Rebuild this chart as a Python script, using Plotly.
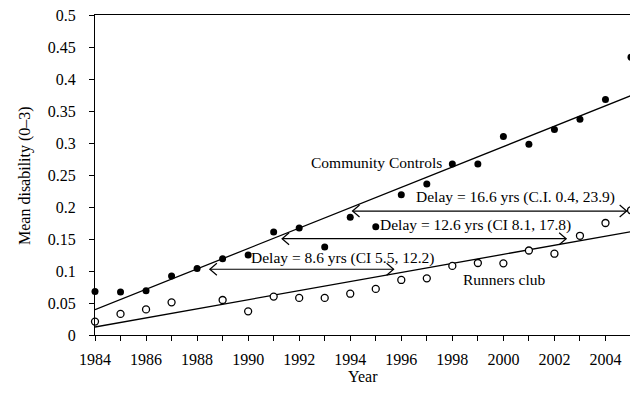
import plotly.graph_objects as go

years = list(range(1984, 2006))
community = [0.068, 0.067, 0.069, 0.092, 0.104, 0.119, 0.125, 0.161, 0.167, 0.1375,
             0.184, 0.169, 0.219, 0.236, 0.267, 0.267, 0.310, 0.298, 0.321, 0.337,
             0.368, 0.434]
runners = [0.021, 0.033, 0.040, 0.051, None, 0.0547, 0.037, 0.060, 0.058, 0.058,
           0.0645, 0.072, 0.086, 0.0885, 0.108, 0.1125, 0.112, 0.132, 0.127, 0.155,
           0.175, 0.195]

fit_years = [1984, 2005]
community_fit = [0.0396, 0.374]
runners_fit = [0.0125, 0.1615]

# delay arrows: start year, end year, level
arrow_start = [1988.5, 1991.33, 1994.09]
arrow_end = [1995.7, 2002.46, 2004.83]
arrow_level = [0.1027, 0.1505, 0.1937]

labels = ["Delay = 8.6 yrs (CI 5.5, 12.2)",
          "Delay = 12.6 yrs (CI 8.1, 17.8)",
          "Delay = 16.6 yrs (C.I. 0.4, 23.9)"]
label_x = [1993.7, 1998.9, 2000.46]
label_y = [0.1207, 0.172, 0.215]

FONT = "Liberation Serif"
ANN = 15.5

X_RANGE = [1984, 2005]
Y_RANGE = [0, 0.5]
W, H = 630, 392
ML, MR, MT, MB = 87, 7, 7, 65
px_x = (W - ML - MR) / (X_RANGE[1] - X_RANGE[0])   # pixels per year
px_y = (H - MT - MB) / (Y_RANGE[1] - Y_RANGE[0])   # pixels per unit
HEAD_LEN, HEAD_HALF = 7, 6                          # arrowhead size in pixels

fig = go.Figure()
fig.add_trace(go.Scatter(x=fit_years, y=community_fit, mode="lines",
                         line=dict(color="black", width=1.3), showlegend=False))
fig.add_trace(go.Scatter(x=fit_years, y=runners_fit, mode="lines",
                         line=dict(color="black", width=1.3), showlegend=False))

# double-headed arrows with open chevron heads
for xs, xe, lv in zip(arrow_start, arrow_end, arrow_level):
    dx = HEAD_LEN / px_x
    dy = HEAD_HALF / px_y
    ax_ = [xs, xe, None,
           xs + dx, xs, xs + dx, None,
           xe - dx, xe, xe - dx]
    ay_ = [lv, lv, None,
           lv + dy, lv, lv - dy, None,
           lv + dy, lv, lv - dy]
    fig.add_trace(go.Scatter(x=ax_, y=ay_, mode="lines", line=dict(color="black", width=1.2),
                             showlegend=False, hoverinfo="skip"))

fig.add_trace(go.Scatter(x=years, y=community, mode="markers",
                         marker=dict(color="black", size=7), showlegend=False,
                         cliponaxis=False))
fig.add_trace(go.Scatter(x=years, y=runners, mode="markers",
                         marker=dict(color="white", size=7, line=dict(color="black", width=1.3)),
                         showlegend=False, cliponaxis=False))

for t, lx, ly in zip(labels, label_x, label_y):
    fig.add_annotation(x=lx, y=ly, text=t, showarrow=False,
                       font=dict(family=FONT, size=ANN, color="black"))

fig.add_annotation(x=1995.02, y=0.270, text="Community Controls", showarrow=False,
                   font=dict(family=FONT, size=ANN, color="black"))
fig.add_annotation(x=2000.03, y=0.086, text="Runners club", showarrow=False,
                   font=dict(family=FONT, size=ANN, color="black"))

# axis titles
fig.add_annotation(xref="paper", yref="paper", x=-0.1306, y=0.5, text="Mean disability (0–3)",
                   textangle=-90, showarrow=False, xanchor="center", yanchor="middle",
                   font=dict(family=FONT, size=16, color="black"))
fig.add_annotation(xref="paper", yref="paper", x=0.5, y=-0.131, text="Year",
                   showarrow=False, xanchor="center", yanchor="middle",
                   font=dict(family=FONT, size=16, color="black"))

# page body has an 8px default margin, so the figure is sized to fit 638x400 with it
fig.update_layout(
    width=W, height=H,
    margin=dict(l=ML, r=MR, t=MT, b=MB, autoexpand=False),
    paper_bgcolor="white", plot_bgcolor="white",
    font=dict(family=FONT, size=16, color="black"),
    xaxis=dict(range=X_RANGE, tickmode="linear", tick0=1984, dtick=2,
               ticks="outside", ticklen=5, tickwidth=1, tickcolor="black",
               minor=dict(dtick=1, tick0=1984, ticks="outside", ticklen=5, tickcolor="black"),
               showline=True, linecolor="black", linewidth=1.3, mirror=True,
               showgrid=False, zeroline=False, automargin=False,
               ticklabelstandoff=5, ticklabeloverflow="allow"),
    yaxis=dict(range=Y_RANGE, tickmode="linear", tick0=0, dtick=0.05,
               ticks="outside", ticklen=5, tickwidth=1, tickcolor="black",
               showline=True, linecolor="black", linewidth=1.3, mirror=True,
               showgrid=False, zeroline=False, automargin=False,
               ticklabelstandoff=10, ticklabeloverflow="allow"),
)

fig.write_html("out.html")
